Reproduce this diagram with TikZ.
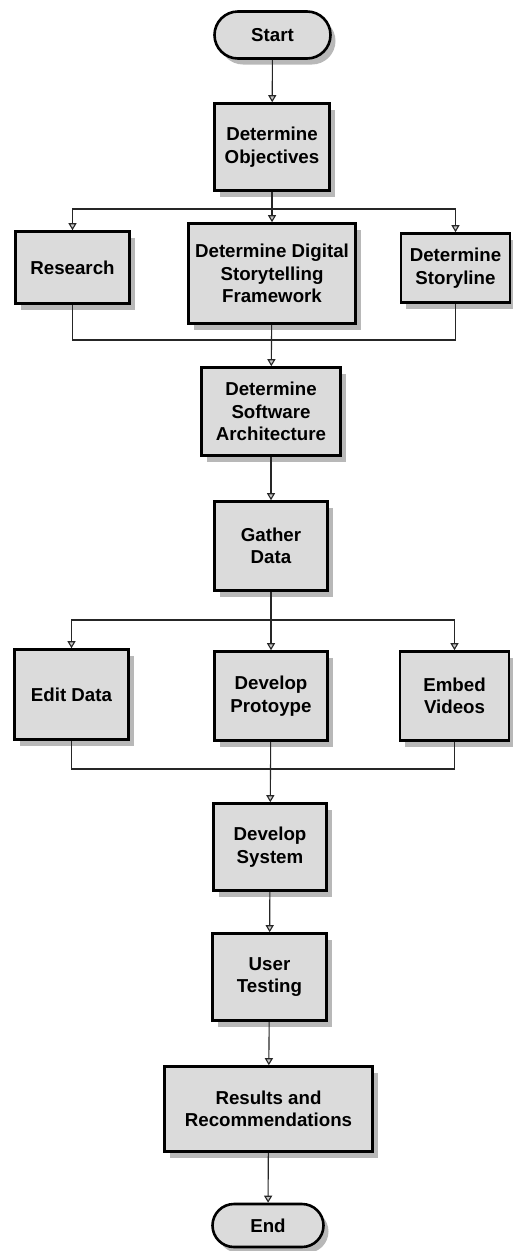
\documentclass[tikz,border=0pt]{standalone}
\usepackage{fontspec}
\setmainfont{Liberation Sans}
\usetikzlibrary{arrows.meta,shapes.misc,shadows}
\definecolor{boxfill}{gray}{0.86}
\definecolor{shadowfill}{gray}{0.72}
\begin{document}
\begin{tikzpicture}[x=1pt,y=-1pt,
  label font/.style={font=\bfseries\fontsize{18.7}{22.5}\selectfont},
  stepbox/.style={rectangle, draw=black, line width=2.6pt, fill=boxfill,
    align=center, inner sep=0pt, label font,
    drop shadow={shadow xshift=5pt, shadow yshift=-6pt, fill=shadowfill, opacity=1}},
  termbox/.style={stepbox, rounded rectangle},
  conn/.style={draw=black!85, line width=1.1pt},
  arr/.style={conn, -{Triangle[length=7pt, width=8pt, fill=gray!45]}}]
\useasboundingbox (0,0) rectangle (512,1251);

% process steps
\node[termbox, minimum width=116pt, minimum height=47pt] (start) at (272.5,35) {Start};
\node[stepbox, minimum width=115pt, minimum height=87pt] (obj) at (272,147) {Determine\\Objectives};
\node[stepbox, minimum width=114pt, minimum height=72pt] (research) at (72.5,267.5) {Research};
\node[stepbox, minimum width=167pt, minimum height=100pt] (dsf) at (272,273.5) {Determine Digital\\Storytelling\\Framework};
\node[stepbox, minimum width=109pt, minimum height=69pt] (story) at (455.5,268) {Determine\\Storyline};
\node[stepbox, minimum width=139pt, minimum height=88pt] (arch) at (271,411.5) {Determine\\Software\\Architecture};
\node[stepbox, minimum width=113pt, minimum height=89pt] (gather) at (271,546) {Gather\\Data};
\node[stepbox, minimum width=114pt, minimum height=90pt] (edit) at (71.5,694.5) {Edit Data};
\node[stepbox, minimum width=113pt, minimum height=89pt] (proto) at (271,696) {Develop\\Protoype};
\node[stepbox, minimum width=109pt, minimum height=89pt] (embed) at (454.5,696) {Embed\\Videos};
\node[stepbox, minimum width=113pt, minimum height=87pt] (dsys) at (270,847) {Develop\\System};
\node[stepbox, minimum width=114pt, minimum height=87pt] (ut) at (269.5,977) {User\\Testing};
\node[stepbox, minimum width=208pt, minimum height=85pt] (res) at (268.5,1109) {Results and\\Recommendations};
\node[termbox, minimum width=111pt, minimum height=43pt] (end) at (268,1225.5) {End};

% branch and merge points
\coordinate (split1) at (272,209);
\coordinate (merge1) at (272,340);
\coordinate (split2) at (271,620);
\coordinate (merge2) at (271,769);

% connectors
\draw[arr] (start) -- (obj);
\draw[conn] (obj) -- (split1);
\draw[arr] (split1) -| (research.north);
\draw[arr] (split1) -- (dsf);
\draw[arr] (split1) -| (story.north);
\draw[conn] (research.south) |- (merge1);
\draw[conn] (story.south) |- (merge1);
\draw[arr] (dsf) -- (arch);
\draw[arr] (arch) -- (gather);
\draw[conn] (gather) -- (split2);
\draw[arr] (split2) -| (edit.north);
\draw[arr] (split2) -- (proto);
\draw[arr] (split2) -| (embed.north);
\draw[conn] (edit.south) |- (merge2);
\draw[conn] (embed.south) |- (merge2);
\draw[arr] (proto) -- (dsys);
\draw[arr] (dsys) -- (ut);
\draw[arr] (ut) -- (res);
\draw[arr] (res) -- (end);
\end{tikzpicture}
\end{document}
